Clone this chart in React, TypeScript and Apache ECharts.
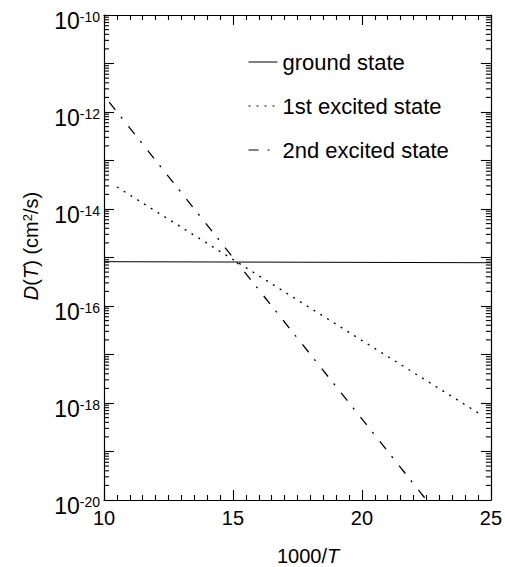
import React, { useEffect, useRef } from "react";
import * as echarts from "echarts";

const FONT = "Liberation Sans, Arial, Helvetica, sans-serif";

const xMin = 10;
const xMax = 25;
const xStep = 5;
const yMin = 1e-20;
const yMax = 1e-10;
const yLabelExponents = [-20, -18, -16, -14, -12, -10];

const seriesNames = ["ground state", "1st excited state", "2nd excited state"];

const groundX = [10, 25];
const groundD = [8.2e-16, 7.8e-16];

const firstX = [10.5, 15, 20, 24.7];
const firstD = [2.85e-14, 9.1e-16, 1.95e-17, 5.4e-19];

const secondX = [10.2, 15, 20, 22.5];
const secondD = [1.6e-12, 1.0e-15, 4.7e-19, 1.0e-20];

const decadeExponents = [-20, -19, -18, -17, -16, -15, -14, -13, -12, -11];
const minorMultipliers = [2, 3, 4, 5, 6, 7, 8, 9];

const pairs = (xs: number[], ys: number[]) => xs.map((x, i) => [x, ys[i]]);

export default function App() {
  const ref = useRef<HTMLDivElement>(null);

  useEffect(() => {
    if (!ref.current) return;
    const chart = echarts.init(ref.current, null, { renderer: "svg" });

    const minorTickData: number[][] = [];
    decadeExponents.forEach((e) => {
      minorMultipliers.forEach((k) => {
        minorTickData.push([xMin, k * Math.pow(10, e)]);
      });
    });

    const axisLineStyle = { color: "#000", width: 1.2 };
    const tickStyle = { color: "#000", width: 1.1 };

    const yLabelRich = {
      b: { fontSize: 23, fontFamily: FONT, color: "#000", lineHeight: 23 },
      s: { fontSize: 14, fontFamily: FONT, color: "#000", lineHeight: 8, verticalAlign: "top" },
    };

    const option: any = {
      animation: false,
      backgroundColor: "#fff",
      grid: { left: 104, right: 12, top: 15, bottom: 67, containLabel: false },
      legend: {
        orient: "vertical",
        left: 243,
        top: 46,
        itemWidth: 29,
        itemHeight: 14,
        itemGap: 22,
        data: seriesNames,
        itemStyle: { opacity: 0, borderWidth: 0 },
        lineStyle: { width: 1 },
        textStyle: { fontSize: 22, color: "#000", fontFamily: FONT },
        selectedMode: false,
      },
      xAxis: [
        {
          type: "value",
          position: "bottom",
          min: xMin,
          max: xMax,
          interval: xStep,
          axisLine: { show: true, onZero: false, lineStyle: axisLineStyle },
          axisTick: { show: true, inside: true, length: 10, lineStyle: tickStyle },
          minorTick: { show: true, splitNumber: 10, length: 5, lineStyle: tickStyle },
          splitLine: { show: false },
          axisLabel: { fontSize: 20, color: "#000", fontFamily: FONT, margin: 8 },
        },
        {
          type: "value",
          position: "top",
          min: xMin,
          max: xMax,
          interval: xStep,
          axisLine: { show: true, onZero: false, lineStyle: axisLineStyle },
          axisTick: { show: true, inside: true, length: 10, lineStyle: tickStyle },
          minorTick: { show: true, splitNumber: 10, length: 5, lineStyle: tickStyle },
          splitLine: { show: false },
          axisLabel: { show: false },
        },
      ],
      yAxis: [
        {
          type: "log",
          logBase: 10,
          position: "left",
          min: yMin,
          max: yMax,
          interval: 1,
          axisLine: { show: true, onZero: false, lineStyle: axisLineStyle },
          axisTick: { show: true, inside: true, length: 10, interval: 0, lineStyle: tickStyle },
          splitLine: { show: false },
          axisLabel: {
            margin: 4,
            showMinLabel: true,
            showMaxLabel: true,
            padding: [12, 0, 0, 0],
            formatter: (v: number) => {
              const e = Math.round(Math.log10(v));
              return yLabelExponents.indexOf(e) >= 0 ? `{b|10}{s|${e}}` : "";
            },
            rich: yLabelRich,
          },
        },
        {
          type: "log",
          logBase: 10,
          position: "right",
          min: yMin,
          max: yMax,
          interval: 1,
          axisLine: { show: true, onZero: false, lineStyle: axisLineStyle },
          axisTick: { show: true, inside: true, length: 10, interval: 0, lineStyle: tickStyle },
          splitLine: { show: false },
          axisLabel: { show: false },
        },
      ],
      series: [
        {
          name: seriesNames[0],
          type: "line",
          data: pairs(groundX, groundD),
          symbol: "none",
          showSymbol: false,
          color: "#000",
          lineStyle: { color: "#000", width: 1, type: "solid" },
        },
        {
          name: seriesNames[1],
          type: "line",
          data: pairs(firstX, firstD),
          symbol: "none",
          showSymbol: false,
          color: "#000",
          lineStyle: { color: "#000", width: 1.3, type: [2, 6] },
        },
        {
          name: seriesNames[2],
          type: "line",
          data: pairs(secondX, secondD),
          symbol: "none",
          showSymbol: false,
          color: "#000",
          lineStyle: { color: "#000", width: 1.3, type: [10, 9, 2, 10] },
        },
        {
          name: "minorTicks",
          type: "custom",
          silent: true,
          clip: false,
          data: minorTickData,
          renderItem: (params: any, api: any) => {
            const v = api.value(1);
            const l = api.coord([xMin, v]);
            const r = api.coord([xMax, v]);
            const st = { stroke: "#000", lineWidth: 1.1 };
            return {
              type: "group",
              children: [
                { type: "line", shape: { x1: l[0], y1: l[1], x2: l[0] + 5, y2: l[1] }, style: st },
                { type: "line", shape: { x1: r[0] - 5, y1: r[1], x2: r[0], y2: r[1] }, style: st },
              ],
            };
          },
        },
      ],
      graphic: [
        {
          type: "text",
          x: 277,
          y: 556,
          style: {
            text: "1000/{i|T}",
            fontSize: 20,
            fontFamily: FONT,
            fill: "#000",
            align: "left",
            verticalAlign: "middle",
            rich: {
              i: { fontSize: 20, fontFamily: FONT, fontStyle: "italic", fill: "#000" },
            },
          },
        },
        {
          type: "text",
          x: 31,
          y: 246,
          rotation: Math.PI / 2,
          style: {
            text: "{i|D}({i|T}) (cm{s|2}/s)",
            fontSize: 20,
            fontFamily: FONT,
            fill: "#000",
            align: "center",
            verticalAlign: "middle",
            rich: {
              i: { fontSize: 20, fontFamily: FONT, fontStyle: "italic", fill: "#000", lineHeight: 20 },
              s: { fontSize: 13, fontFamily: FONT, fill: "#000", lineHeight: 8, verticalAlign: "top" },
            },
          },
        },
      ],
    };

    chart.setOption(option);
    return () => chart.dispose();
  }, []);

  return (
    <div
      ref={ref}
      style={{ position: "fixed", left: 0, top: 0, width: 505, height: 567, background: "#fff" }}
    />
  );
}
